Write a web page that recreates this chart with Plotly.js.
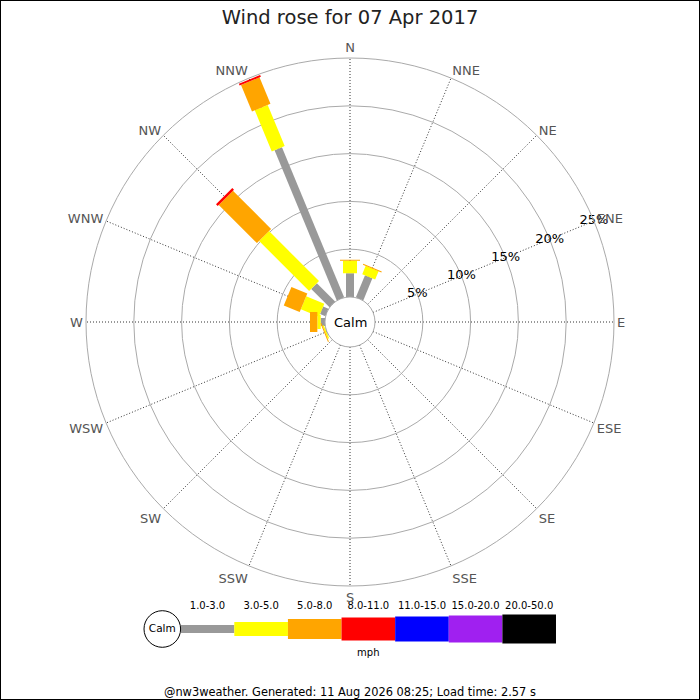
<!DOCTYPE html>
<html>
<head>
<meta charset="utf-8">
<script src="https://cdn.plot.ly/plotly-3.0.1.min.js"></script>
<style>html,body{margin:0;padding:0;background:#fff;}#chart{width:700px;height:700px;}</style>
</head>
<body>
<div id="chart"></div>
<script>
// ---- data ----
var directions = ["N","NNE","NE","ENE","E","ESE","SE","SSE","S","SSW","SW","WSW","W","WNW","NW","NNW"];
var dirAngles = [0,22.5,45,67.5,90,112.5,135,157.5,180,202.5,225,247.5,270,292.5,315,337.5];
var speedLabels = ["1.0-3.0","3.0-5.0","5.0-8.0","8.0-11.0","11.0-15.0","15.0-20.0","20.0-50.0"];
// percentage of observations per direction (N first, clockwise)
var pct_1_3   = [2.48,2.5,0,0,0,0,0,0,0,0,0,0.05,0.45,0.6,2.7,17.0];
var pct_3_5   = [1.32,0.94,0,0,0,0,0,0,0,0,0,0.15,0.35,2.05,7.4,4.65];
var pct_5_8   = [0.1,0.1,0,0,0,0,0,0,0,0,0,0.1,0.77,1.8,5.65,3.0];
var pct_8_11  = [0,0,0,0,0,0,0,0,0,0,0,0,0,0,0.25,0.2];
var pct_11_15 = [0,0,0,0,0,0,0,0,0,0,0,0,0,0,0,0];
var pct_15_20 = [0,0,0,0,0,0,0,0,0,0,0,0,0,0,0,0];
var pct_20_50 = [0,0,0,0,0,0,0,0,0,0,0,0,0,0,0,0];
var ringVals = [5,10,15,20,25];
var ringLabels = ["5%","10%","15%","20%","25%"];
var unitLabel = "mph";
var calmLabel = "Calm";
var titleText = "Wind rose for 07 Apr 2017";
var footerText = "@nw3weather. Generated: 11 Aug 2026 08:25; Load time: 2.57 s";

// ---- styles ----
var classColors = ["#999999","#ffff00","#ffa500","#ff0000","#0000ff","#a020f0","#000000"];
var classWidths = [8,14,20,23,25,27,29];
var FONT = "DejaVu Sans, Verdana, sans-serif";
var LEG_UNIT = (556 - 180.7) / 7;   // px per legend slot
var LEG_XMIN = -0.7;

var series = [pct_1_3,pct_3_5,pct_5_8,pct_8_11,pct_11_15,pct_15_20,pct_20_50];
var traces = [];
var cum = directions.map(function(){return 0;});
series.forEach(function(vals, k){
  var r = [], th = [];
  vals.forEach(function(v, d){
    if (v > 0) {
      r.push(cum[d], cum[d] + v, null);
      th.push(dirAngles[d], dirAngles[d], null);
      cum[d] += v;
    }
  });
  traces.push({
    type: "scatterpolar", mode: "lines", r: r, theta: th,
    line: {color: classColors[k], width: classWidths[k]},
    cliponaxis: false, hoverinfo: "skip", showlegend: false, subplot: "polar"
  });
});
// ring labels along ENE
traces.push({
  type: "scatterpolar", mode: "text", r: ringVals,
  theta: ringVals.map(function(){return 67.5;}),
  text: ringLabels, textposition: "middle center",
  textfont: {family: FONT, size: 13, color: "#000"},
  cliponaxis: false, hoverinfo: "skip", showlegend: false, subplot: "polar"
});
// legend bars
speedLabels.forEach(function(lbl, i){
  traces.push({
    type: "scatter", mode: "lines", x: [i, i+1], y: [0, 0],
    line: {color: classColors[i], width: classWidths[i]},
    xaxis: "x", yaxis: "y", cliponaxis: false, hoverinfo: "skip", showlegend: false
  });
});
traces.push({
  type: "scatter", mode: "text",
  x: speedLabels.map(function(_, i){return i + 0.5;}),
  y: speedLabels.map(function(){return 22.5;}),
  text: speedLabels, textfont: {family: FONT, size: 10, color: "#000"},
  xaxis: "x", yaxis: "y", cliponaxis: false, hoverinfo: "skip", showlegend: false
});
traces.push({
  type: "scatter", mode: "text", x: [3.5], y: [-24], text: [unitLabel],
  textfont: {family: FONT, size: 10, color: "#000"},
  xaxis: "x", yaxis: "y", cliponaxis: false, hoverinfo: "skip", showlegend: false
});
traces.push({
  type: "scatter", mode: "markers+text", x: [-0.343], y: [0], text: [calmLabel],
  textposition: "middle center",
  marker: {size: 36.6, color: "#fff", line: {color: "#000", width: 1}},
  textfont: {family: FONT, size: 10.5, color: "#000"},
  xaxis: "x", yaxis: "y", cliponaxis: false, hoverinfo: "skip", showlegend: false
});

var layout = {
  width: 700, height: 700,
  margin: {l: 0, r: 0, t: 0, b: 0},
  paper_bgcolor: "#fff", plot_bgcolor: "rgba(0,0,0,0)",
  font: {family: FONT},
  showlegend: false,
  title: {text: titleText, x: 0.5, xanchor: "center", xref: "paper",
          y: 1 - 17/700, yref: "container", yanchor: "middle",
          font: {family: FONT, size: 19.5, color: "#222"}},
  polar: {
    domain: {x: [86/700, 614/700], y: [114/700, 642/700]},
    hole: 25/264,
    bgcolor: "#fff",
    radialaxis: {
      range: [0, 25], tickmode: "array", tickvals: [0,5,10,15,20,25],
      showticklabels: false, ticks: "", showline: false,
      gridcolor: "#aaaaaa", gridwidth: 1, angle: 22.5
    },
    angularaxis: {
      type: "linear", thetaunit: "degrees", rotation: 90, direction: "clockwise",
      tickmode: "array", tickvals: dirAngles, ticktext: directions,
      ticks: "", tickfont: {family: FONT, size: 13, color: "#555"},
      showline: true, linecolor: "#aaaaaa", linewidth: 1,
      gridcolor: "#333333", gridwidth: 1, griddash: "1px,2px"
    }
  },
  xaxis: {domain: [(180.7 + LEG_XMIN * LEG_UNIT)/700, 556/700], range: [LEG_XMIN, 7],
          visible: false, fixedrange: true},
  yaxis: {domain: [40/700, 102/700], range: [-31, 31], visible: false, fixedrange: true},
  annotations: [
    {text: calmLabel, x: 0.5, y: 378/700, xref: "paper", yref: "paper",
     showarrow: false, xanchor: "center", yanchor: "middle",
     font: {family: FONT, size: 13, color: "#000"}},
    {text: footerText, x: 0.5, y: 8/700, xref: "paper", yref: "paper",
     showarrow: false, xanchor: "center", yanchor: "middle",
     font: {family: FONT, size: 11.4, color: "#000"}}
  ],
  shapes: [
    {type: "rect", xref: "paper", yref: "paper", x0: 0, x1: 1, y0: 0, y1: 1,
     line: {color: "#000", width: 2}, fillcolor: "rgba(0,0,0,0)"}
  ]
};

Plotly.newPlot("chart", traces, layout, {staticPlot: true, displayModeBar: false});
</script>
</body>
</html>
